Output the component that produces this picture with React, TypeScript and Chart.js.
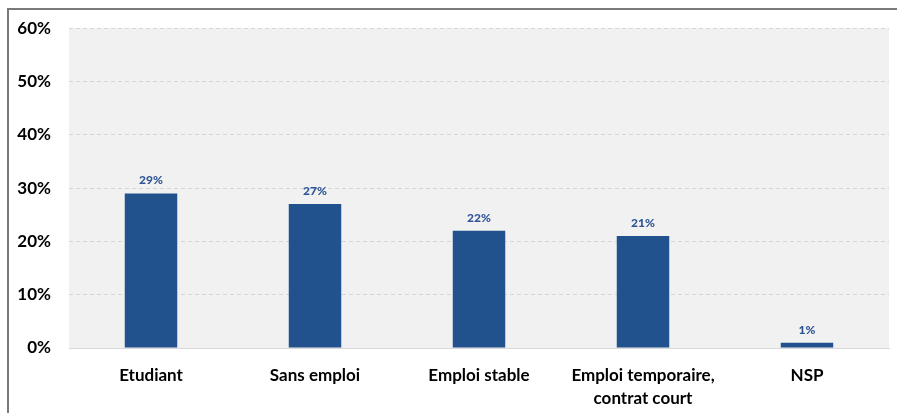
import React, { useEffect, useRef } from "react";
import { Chart, registerables } from "chart.js";

Chart.register(...registerables);

const categories: (string | string[])[] = [
  "Etudiant",
  "Sans emploi",
  "Emploi stable",
  ["Emploi temporaire,", "contrat court"],
  "NSP",
];
const values = [29, 27, 22, 21, 1];
const yTicks = [0, 10, 20, 30, 40, 50, 60];

const BAR_COLOR = "#22528e";
const LABEL_COLOR = "#2f5596";
const FONT = "Lato, 'Open Sans', 'Liberation Sans', sans-serif";

const plotBg = {
  id: "plotBg",
  beforeDraw(chart: any) {
    const { ctx, chartArea } = chart;
    ctx.save();
    ctx.fillStyle = "#f1f1f1";
    ctx.fillRect(chartArea.left, chartArea.top, chartArea.right - chartArea.left, chartArea.bottom - chartArea.top);
    ctx.restore();
  },
};

const valueLabels = {
  id: "valueLabels",
  afterDatasetsDraw(chart: any) {
    const { ctx } = chart;
    const meta = chart.getDatasetMeta(0);
    ctx.save();
    ctx.fillStyle = LABEL_COLOR;
    ctx.font = `900 12px ${FONT}`;
    ctx.textAlign = "center";
    ctx.textBaseline = "bottom";
    meta.data.forEach((bar: any, i: number) => {
      ctx.fillText(`${values[i]}%`, bar.x, bar.y - 7);
    });
    ctx.restore();
  },
};

export default function App() {
  const ref = useRef<HTMLCanvasElement | null>(null);
  useEffect(() => {
    if (!ref.current) return;
    const chart = new Chart(ref.current, {
      type: "bar",
      data: {
        labels: categories,
        datasets: [
          {
            data: values,
            backgroundColor: BAR_COLOR,
            categoryPercentage: 1,
            barPercentage: 0.32,
          },
        ],
      },
      options: {
        animation: false,
        responsive: false,
        devicePixelRatio: 1,
        layout: { padding: { left: 0, right: 8, top: 28, bottom: 0 } },
        plugins: { legend: { display: false }, tooltip: { enabled: false } },
        scales: {
          x: {
            grid: { display: false },
            border: { display: true, color: "#d9d9d9", width: 1 },
            ticks: {
              color: "#000",
              font: { family: FONT, size: 17, weight: "bold", lineHeight: 1.35 },
              padding: 8,
              maxRotation: 0,
              autoSkip: false,
            },
            afterFit(scale: any) {
              scale.height = 65;
            },
          },
          y: {
            min: 0,
            max: 60,
            afterBuildTicks(scale: any) {
              scale.ticks = yTicks.map((v) => ({ value: v }));
            },
            grid: {
              color: (c: any) => (c.tick && c.tick.value === 0 ? "rgba(0,0,0,0)" : "#d6d6d6"),
              lineWidth: 1,
              drawTicks: false,
            },
            border: { display: false, dash: [4, 3] },
            ticks: {
              color: "#000",
              font: { family: FONT, size: 17, weight: "bold" },
              padding: 18,
              callback: (v: any) => `${v}%`,
            },
            afterFit(scale: any) {
              scale.width = 69;
            },
          },
        },
      },
      plugins: [plotBg, valueLabels],
    });
    return () => chart.destroy();
  }, []);

  return (
    <div style={{ position: "fixed", left: 0, top: 0, width: 897, height: 413, background: "#fff" }}>
      <div
        style={{
          position: "absolute",
          left: 7,
          top: 8,
          width: 890,
          height: 405,
          borderTop: "2px solid #7a7a7a",
          borderLeft: "2px solid #7a7a7a",
          boxSizing: "border-box",
        }}
      />
      <canvas ref={ref} width={897} height={413} style={{ position: "absolute", left: 0, top: 0, width: 897, height: 413 }} />
    </div>
  );
}
